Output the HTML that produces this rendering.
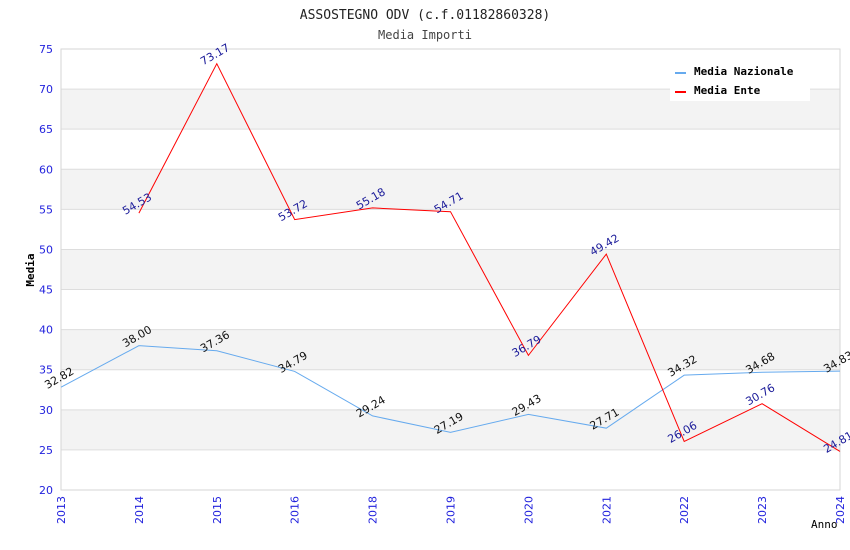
<!DOCTYPE html>
<html><head><meta charset="utf-8"><style>
body{margin:0;background:#fff}
svg{display:block;font-family:"DejaVu Sans","Liberation Sans",sans-serif}
.mono{font-family:"DejaVu Sans Mono","Liberation Mono",monospace}
</style></head><body>
<svg id="c" width="850" height="550"></svg>
<script>
const categories=["2013","2014","2015","2016","2018","2019","2020","2021","2022","2023","2024"];
const nazionale=[32.82,38.00,37.36,34.79,29.24,27.19,29.43,27.71,34.32,34.68,34.83];
const ente=[null,54.53,73.17,53.72,55.18,54.71,36.79,49.42,26.06,30.76,24.81];
const yTicks=[20,25,30,35,40,45,50,55,60,65,70,75];
const L=61,R=840,T=49,B=490,yMin=20,yMax=75;
const x=i=>L+i*(R-L)/(categories.length-1);
const y=v=>B-(v-yMin)/(yMax-yMin)*(B-T);
const svg=document.getElementById('c');
const NS='http://www.w3.org/2000/svg';
function mk(t,a,p){const e=document.createElementNS(NS,t);for(const k in a)e.setAttribute(k,a[k]);(p||svg).appendChild(e);return e;}
let e;
for(let i=0;i<yTicks.length-1;i++){
  if(i%2==1){e=mk('rect',{x:L,y:y(yTicks[i+1]),width:R-L,height:y(yTicks[i])-y(yTicks[i+1]),fill:'#f3f3f3'});
  
  }
}
yTicks.forEach(v=>{
  e=mk('line',{x1:L,x2:R,y1:y(v),y2:y(v),stroke:'#dddddd'});
  
  
  e=mk('text',{x:L-8,y:y(v)+4,'text-anchor':'end','font-size':11,fill:'#2222dd'});e.textContent=v;
  
  
});
e=mk('rect',{x:L,y:T,width:R-L,height:B-T,fill:'none',stroke:'#d6d6d6'});


categories.forEach((c,i)=>{
  e=mk('text',{transform:`translate(${x(i)+4},${B+6}) rotate(-90)`,'text-anchor':'end','font-size':11,fill:'#2222dd'});e.textContent=c;
  
  
});
function series(arr,color,lc,name){
  let d='';arr.forEach((v,i)=>{if(v==null)return;d+=(d?'L':'M')+x(i)+','+y(v);});
  e=mk('path',{d,fill:'none',stroke:color,'stroke-width':1});
  
  
  arr.forEach((v,i)=>{if(v==null)return;
    e=mk('text',{transform:`translate(${x(i)},${y(v)-6}) rotate(-30)`,'text-anchor':'middle','font-size':11,fill:lc});e.textContent=v.toFixed(2);
    
    
  });
}
series(nazionale,'#66aaee','#111','nazionale');
series(ente,'#ff0000','#1a1a99','ente');
e=mk('rect',{x:670,y:58,width:140,height:43,fill:'#fff'});


[['Media Nazionale','#66aaee'],['Media Ente','#ff0000']].forEach((l,i)=>{
  e=mk('line',{x1:675,x2:686,y1:73+i*19,y2:73+i*19,stroke:l[1],'stroke-width':2});
  
  
  e=mk('text',{x:694,y:75+i*19,'font-size':11,'font-weight':'bold',class:'mono'});e.textContent=l[0];
  
  
});
e=mk('text',{x:425,y:19,'text-anchor':'middle','font-size':13,class:'mono',fill:'#222'});e.textContent='ASSOSTEGNO ODV (c.f.01182860328)';


e=mk('text',{x:425,y:39,'text-anchor':'middle','font-size':12,class:'mono',fill:'#444'});e.textContent='Media Importi';


e=mk('text',{transform:'translate(34,270) rotate(-90)','text-anchor':'middle','font-size':11,'font-weight':'bold',class:'mono'});e.textContent='Media';


e=mk('text',{x:811,y:528,'font-size':11,class:'mono'});e.textContent='Anno';


</script>
</body></html>
